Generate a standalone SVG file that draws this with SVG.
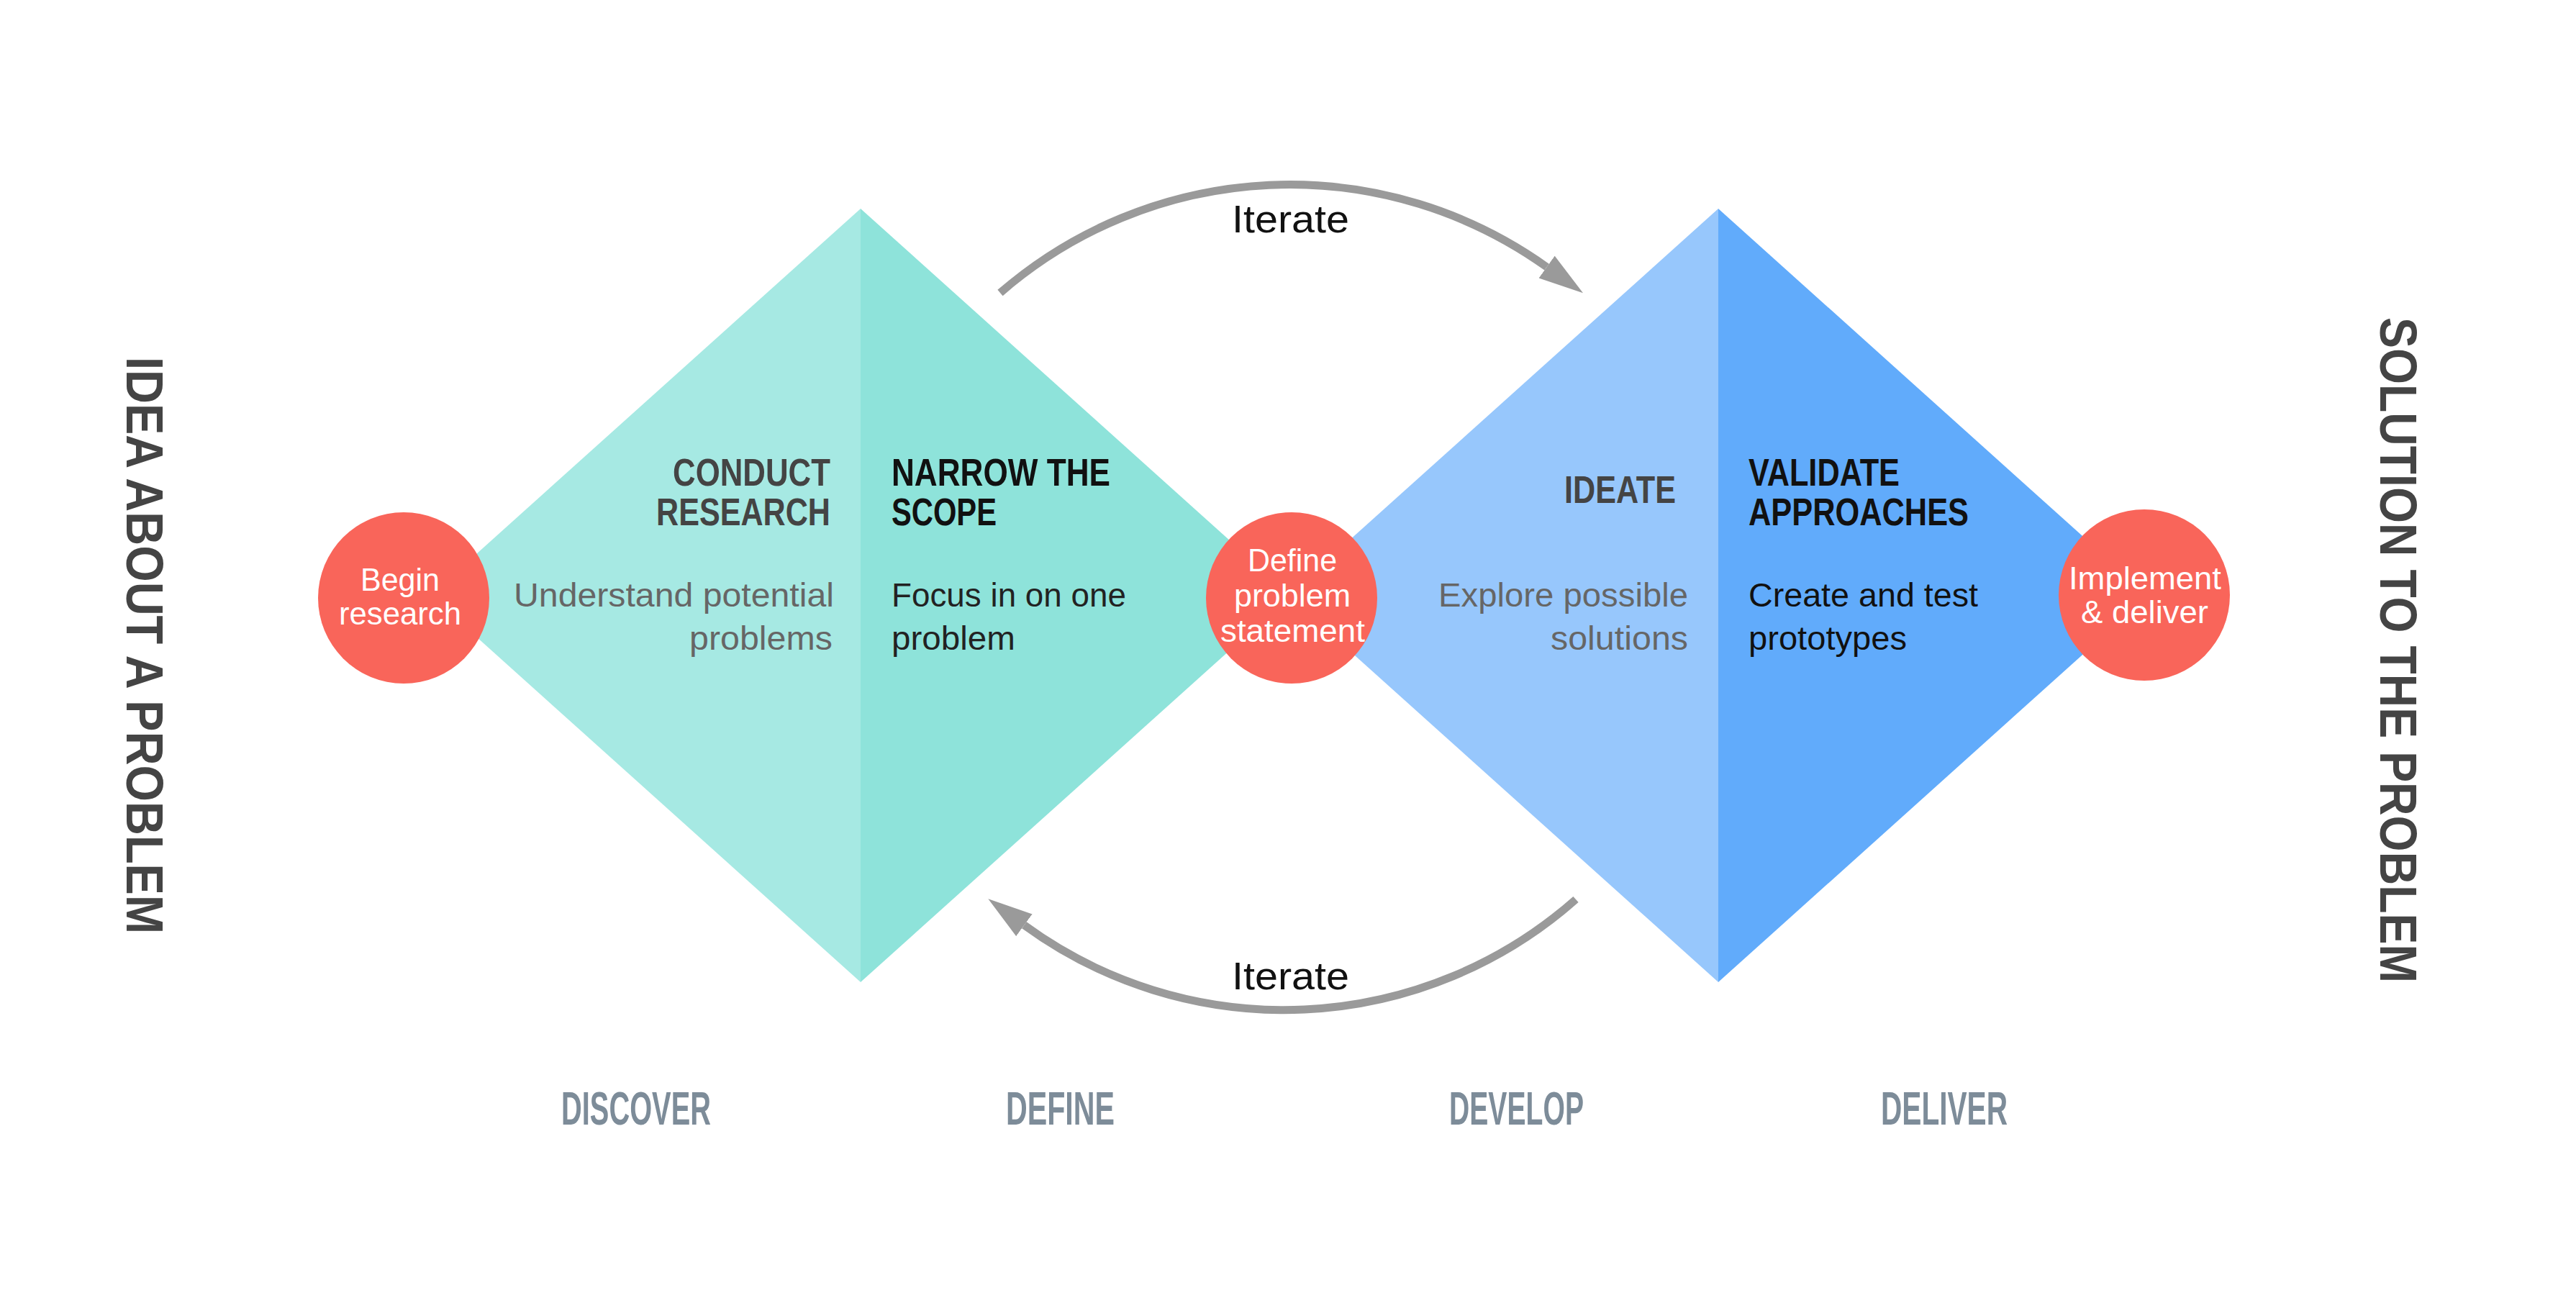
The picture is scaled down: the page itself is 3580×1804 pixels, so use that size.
<svg xmlns="http://www.w3.org/2000/svg" width="3580" height="1804" viewBox="0 0 3580 1804">
<style>
  text { font-family: "Liberation Sans", Arial, sans-serif; }
  .head { font-size: 53px; font-weight: 700; }
  .body { font-size: 47px; }
  .circ { font-size: 44px; fill: #ffffff; }
  .iter { font-size: 53px; fill: #111111; }
  .phase { font-size: 65px; font-weight: 700; fill: #7d8c99; }
  .side { font-size: 72px; font-weight: 700; fill: #444444; }
  .dot { fill: #f9655a; }
  .arc { fill: none; stroke: #9a9a9a; stroke-width: 11; }
</style>
<defs>
  <marker id="arrow" markerUnits="userSpaceOnUse" markerWidth="64" markerHeight="40" refX="0" refY="19" orient="auto">
    <path d="M0,0 L62,19 L0,38 Z" fill="#9a9a9a"/>
  </marker>
</defs>
<rect width="3580" height="1804" fill="#ffffff"/>

<g id="discover-diamond">
  <polygon points="1196,290 1196,1365 598,827.5" fill="#a6e9e3"/>
  <polygon points="1196,290 1794,827.5 1196,1365" fill="#8ee3da"/>
</g>
<g id="develop-diamond">
  <polygon points="2388,290 2388,1365 1790,827.5" fill="#97c7fc"/>
  <polygon points="2388,290 2986,827.5 2388,1365" fill="#61abfb"/>
</g>

<g id="connectors">
  <path class="arc" d="M1390,407 A614,614 0 0 1 2149.6,371.1" marker-end="url(#arrow)"/>
  <path class="arc" d="M2190,1250 A612,612 0 0 1 1423.4,1285.8" marker-end="url(#arrow)"/>
  <text class="iter" x="1712" y="323" textLength="163" lengthAdjust="spacingAndGlyphs">Iterate</text>
  <text class="iter" x="1712" y="1375" textLength="163" lengthAdjust="spacingAndGlyphs">Iterate</text>
</g>

<g id="conduct-research">
  <text class="head" x="935" y="675" fill="#444444" textLength="219" lengthAdjust="spacingAndGlyphs">CONDUCT</text>
  <text class="head" x="912" y="730" fill="#444444" textLength="242" lengthAdjust="spacingAndGlyphs">RESEARCH</text>
  <text class="body" x="714" y="843" fill="#666666" textLength="445" lengthAdjust="spacingAndGlyphs">Understand potential</text>
  <text class="body" x="958" y="903" fill="#666666" textLength="199" lengthAdjust="spacingAndGlyphs">problems</text>
</g>
<g id="narrow-scope">
  <text class="head" x="1239" y="675" fill="#111111" textLength="304" lengthAdjust="spacingAndGlyphs">NARROW THE</text>
  <text class="head" x="1239" y="730" fill="#111111" textLength="146" lengthAdjust="spacingAndGlyphs">SCOPE</text>
  <text class="body" x="1239" y="843" fill="#222222" textLength="326" lengthAdjust="spacingAndGlyphs">Focus in on one</text>
  <text class="body" x="1239" y="903" fill="#222222" textLength="172" lengthAdjust="spacingAndGlyphs">problem</text>
</g>
<g id="ideate">
  <text class="head" x="2174" y="699" fill="#444444" textLength="155" lengthAdjust="spacingAndGlyphs">IDEATE</text>
  <text class="body" x="1999" y="843" fill="#666666" textLength="347" lengthAdjust="spacingAndGlyphs">Explore possible</text>
  <text class="body" x="2155" y="903" fill="#666666" textLength="191" lengthAdjust="spacingAndGlyphs">solutions</text>
</g>
<g id="validate">
  <text class="head" x="2430" y="675" fill="#111111" textLength="210" lengthAdjust="spacingAndGlyphs">VALIDATE</text>
  <text class="head" x="2430" y="730" fill="#111111" textLength="306" lengthAdjust="spacingAndGlyphs">APPROACHES</text>
  <text class="body" x="2430" y="843" fill="#111111" textLength="319" lengthAdjust="spacingAndGlyphs">Create and test</text>
  <text class="body" x="2430" y="903" fill="#111111" textLength="220" lengthAdjust="spacingAndGlyphs">prototypes</text>
</g>

<g id="begin-research">
  <circle class="dot" cx="561" cy="831" r="119"/>
  <text class="circ" x="501" y="821" textLength="110" lengthAdjust="spacingAndGlyphs">Begin</text>
  <text class="circ" x="471" y="868" textLength="170" lengthAdjust="spacingAndGlyphs">research</text>
</g>
<g id="define-problem">
  <circle class="dot" cx="1795" cy="831" r="119"/>
  <text class="circ" x="1734" y="794" textLength="124" lengthAdjust="spacingAndGlyphs">Define</text>
  <text class="circ" x="1715" y="843" textLength="162" lengthAdjust="spacingAndGlyphs">problem</text>
  <text class="circ" x="1696" y="892" textLength="201" lengthAdjust="spacingAndGlyphs">statement</text>
</g>
<g id="implement-deliver">
  <circle class="dot" cx="2980" cy="827" r="119"/>
  <text class="circ" x="2875" y="819" textLength="212" lengthAdjust="spacingAndGlyphs">Implement</text>
  <text class="circ" x="2892" y="866" textLength="177" lengthAdjust="spacingAndGlyphs">&amp; deliver</text>
</g>

<g id="side-labels">
  <text class="side" transform="translate(176,496) rotate(90)" textLength="802" lengthAdjust="spacingAndGlyphs">IDEA ABOUT A PROBLEM</text>
  <text class="side" transform="translate(3308,441) rotate(90)" textLength="925" lengthAdjust="spacingAndGlyphs">SOLUTION TO THE PROBLEM</text>
</g>

<g id="phases">
  <text class="phase" x="780" y="1563" textLength="208" lengthAdjust="spacingAndGlyphs">DISCOVER</text>
  <text class="phase" x="1398" y="1563" textLength="151" lengthAdjust="spacingAndGlyphs">DEFINE</text>
  <text class="phase" x="2014" y="1563" textLength="187" lengthAdjust="spacingAndGlyphs">DEVELOP</text>
  <text class="phase" x="2614" y="1563" textLength="176" lengthAdjust="spacingAndGlyphs">DELIVER</text>
</g>
</svg>
